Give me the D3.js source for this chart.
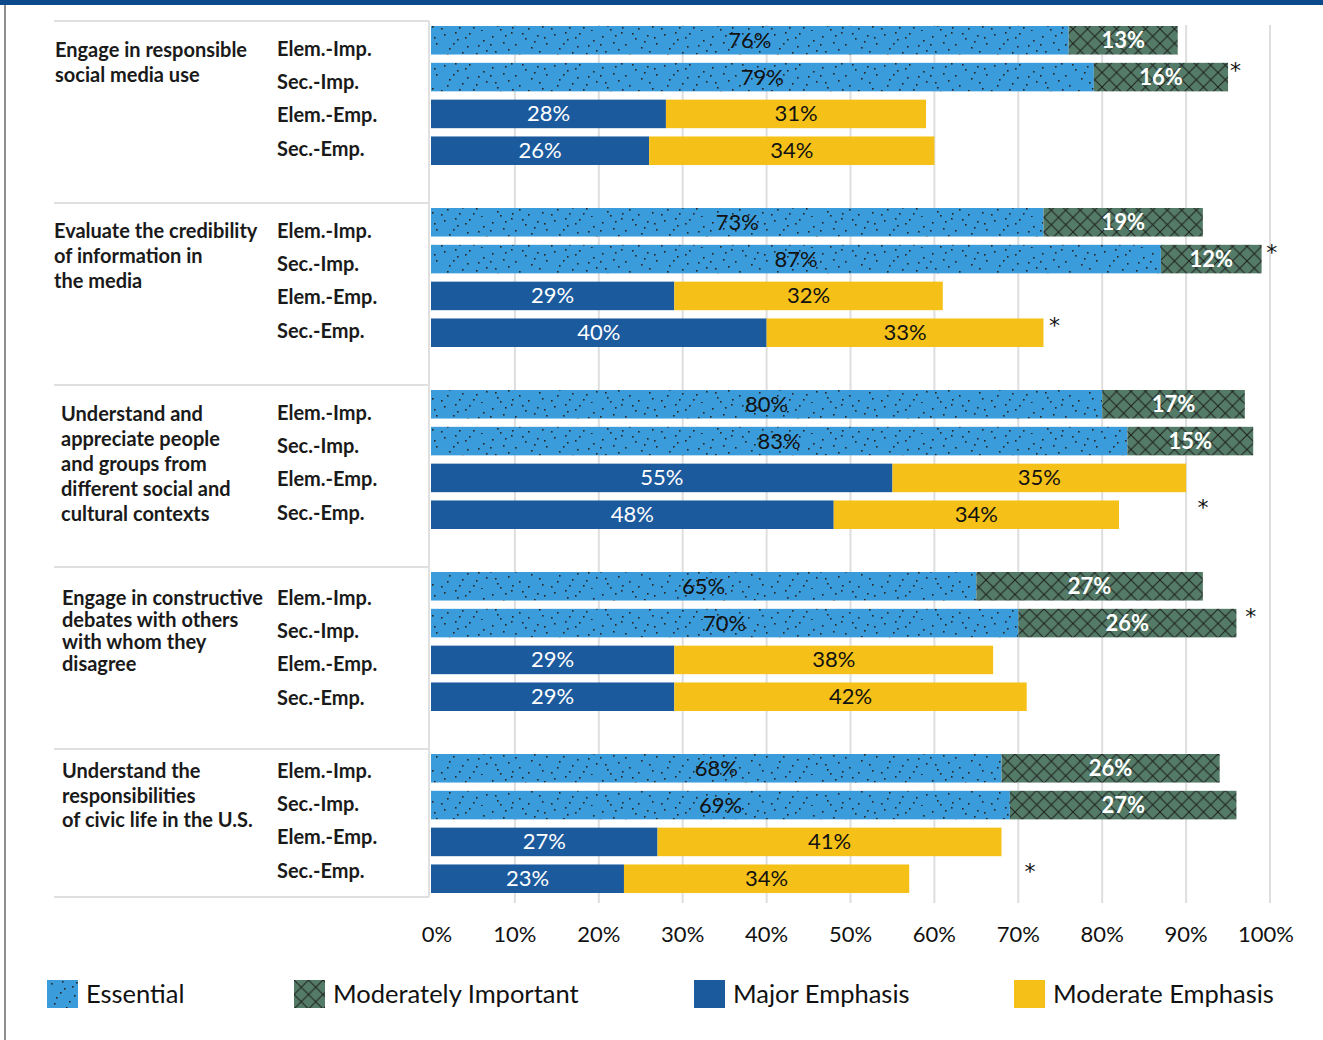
<!DOCTYPE html>
<html><head><meta charset="utf-8">
<script src="https://cdn.jsdelivr.net/npm/d3@7"></script>
<style>body{margin:0;background:#fff} svg{display:block}</style>
</head><body><svg id="c" width="1323" height="1040"></svg>
<script>
// ---------- DATA ----------
const categories = ["social", "credibility", "cultural", "debates", "civic"];
const categoryLines = [
  ["Engage in responsible", "social media use"],
  ["Evaluate the credibility", "of information in", "the media"],
  ["Understand and", "appreciate people", "and groups from", "different social and", "cultural contexts"],
  ["Engage in constructive", "debates with others", "with whom they", "disagree"],
  ["Understand the", "responsibilities", "of civic life in the U.S."]
];
const rows = ["Elem.-Imp.", "Sec.-Imp.", "Elem.-Emp.", "Sec.-Emp."];
const seriesNames = ["Essential", "Moderately Important", "Major Emphasis", "Moderate Emphasis"];
const essentialElem = [76, 73, 80, 65, 68];
const essentialSec  = [79, 87, 83, 70, 69];
const modImpElem    = [13, 19, 17, 27, 26];
const modImpSec     = [16, 12, 15, 26, 27];
const majorElem     = [28, 29, 55, 29, 27];
const majorSec      = [26, 40, 48, 29, 23];
const moderateElem  = [31, 32, 35, 38, 41];
const moderateSec   = [34, 33, 34, 42, 34];
const asterisks = [
  {cat: 0, row: 1, x: 95.9}, {cat: 1, row: 1, x: 100.2}, {cat: 1, row: 3, x: 74.3},
  {cat: 2, row: 3, x: 92.0}, {cat: 3, row: 1, x: 97.7}, {cat: 4, row: 3, x: 71.4}
];
const ticks = [0, 10, 20, 30, 40, 50, 60, 70, 80, 90, 100];
const tickLabels = ticks.map(t => t + "%");

// ---------- STYLE / LAYOUT ----------
const fills = ["url(#dots)", "url(#hatch)", "#1c5a9e", "#f5c118"];
const labelColors = ["#111", "#fff", "#fff", "#111"];
const labelWeights = [400, 700, 400, 400];
const catIndent = [55, 54, 61, 62, 62];
const catLineH = [25, 25, 25, 22, 24.5];
const catOffset = [23, 22, 23, 25, 16];
const rowLabelOffset = [22, 22, 22, 25, 16];
const rowLabelStep = 33.2;
const font = "Lato, 'Open Sans', sans-serif";

// build rows of segments
const table = [];
categories.forEach((c, i) => {
  const pairs = [
    [essentialElem[i], modImpElem[i], 0],
    [essentialSec[i], modImpSec[i], 0],
    [majorElem[i], moderateElem[i], 2],
    [majorSec[i], moderateSec[i], 2]
  ];
  pairs.forEach((p, r) => {
    table.push({cat: c, ci: i, row: rows[r], s: p[2], x0: 0, x1: p[0], v: p[0]});
    table.push({cat: c, ci: i, row: rows[r], s: p[2] + 1, x0: p[0], x1: p[0] + p[1], v: p[1]});
  });
});

const svg = d3.select("#c");
const x = d3.scaleLinear().domain([0, 100]).range([431, 1270]);
const yCat = d3.scaleBand().domain(categories).range([26, 26 + 182 * categories.length]);
const yRow = d3.scaleBand().domain(rows).range([0, 139]).paddingInner(0.225);
const barY = (c, r) => yCat(c) + yRow(r);

// patterns
const defs = svg.append("defs");
const dp = defs.append("pattern").attr("id", "dots").attr("patternUnits", "userSpaceOnUse")
  .attr("width", 110).attr("height", 31);
dp.append("rect").attr("width", 110).attr("height", 31).attr("fill", "#3b9cdb");
const dotPts = [[4,3],[17,8],[29,2],[38,14],[52,5],[63,11],[71,1],[85,7],[97,4],[106,12],
  [9,17],[22,21],[33,27],[46,19],[57,25],[68,18],[79,23],[91,16],[102,26],[1,28],
  [13,12],[27,15],[43,9],[60,29],[75,13],[88,28],[99,20],[36,22],[50,13],[65,4],
  [19,27],[82,2],[94,10],[7,23],[55,20],[72,27],[41,30],[25,6],[104,6],[15,1]];
dp.selectAll("rect.d").data(dotPts).join("rect").attr("class", "d")
  .attr("x", d => d[0]).attr("y", d => d[1]).attr("width", 1.6).attr("height", 1.6).attr("fill", "#262626");
const hp = defs.append("pattern").attr("id", "hatch").attr("patternUnits", "userSpaceOnUse")
  .attr("width", 14.5).attr("height", 14.5);
hp.append("rect").attr("width", 14.5).attr("height", 14.5).attr("fill", "#547b67");
hp.append("path").attr("d", "M0,0L14.5,14.5M14.5,0L0,14.5M-1,13.5L1,15.5M13.5,-1L15.5,1")
  .attr("stroke", "#1e1e1e").attr("stroke-width", 1);

// frame
svg.append("rect").attr("x", 0).attr("y", 0).attr("width", 1323).attr("height", 5).attr("fill", "#0b4a8d");
svg.append("line").attr("x1", 5).attr("x2", 5).attr("y1", 5).attr("y2", 1040)
  .attr("stroke", "#6a6a6a").attr("stroke-width", 1.5);

// gridlines
svg.append("g").selectAll("line").data(ticks.filter(t => t > 0)).join("line")
  .attr("x1", d => x(d)).attr("x2", d => x(d)).attr("y1", 25).attr("y2", 903)
  .attr("stroke", "#dedede").attr("stroke-width", 2);

// table lines
const lastCat = categories[categories.length - 1];
const sepYs = categories.map(c => yCat(c) - 5).concat([barY(lastCat, rows[3]) + yRow.bandwidth() + 4]);
svg.append("g").selectAll("line").data(sepYs).join("line")
  .attr("x1", 54).attr("x2", 429).attr("y1", d => d).attr("y2", d => d)
  .attr("stroke", "#e0e0e0").attr("stroke-width", 2);
svg.append("line").attr("x1", 429).attr("x2", 429).attr("y1", sepYs[0]).attr("y2", sepYs[sepYs.length - 1])
  .attr("stroke", "#e0e0e0").attr("stroke-width", 2);

// bars
svg.append("g").selectAll("rect").data(table).join("rect")
  .attr("x", d => x(d.x0)).attr("width", d => x(d.x1) - x(d.x0))
  .attr("y", d => barY(d.cat, d.row)).attr("height", yRow.bandwidth())
  .attr("fill", d => fills[d.s]);

// value labels
svg.append("g").selectAll("text").data(table).join("text")
  .attr("x", d => x((d.x0 + d.x1) / 2)).attr("y", d => barY(d.cat, d.row) + yRow.bandwidth() / 2 - 1)
  .attr("text-anchor", "middle").attr("dominant-baseline", "central")
  .attr("font-family", font).attr("font-size", 22)
  .attr("font-weight", d => labelWeights[d.s]).attr("fill", d => labelColors[d.s])
  .text(d => d.v + "%");

// asterisks
svg.append("g").selectAll("text").data(asterisks).join("text")
  .attr("x", d => x(d.x)).attr("y", d => barY(categories[d.cat], rows[d.row]) + 15)
  .attr("text-anchor", "middle").attr("font-family", "'DejaVu Sans', sans-serif").attr("font-size", 22).attr("fill", "#111")
  .text("*");

// category labels
const cg = svg.append("g");
categories.forEach((c, i) => {
  cg.append("text").attr("font-family", font).attr("font-size", 20).attr("font-weight", 700).attr("fill", "#1a1a1a")
    .selectAll("tspan").data(categoryLines[i]).join("tspan")
    .attr("x", catIndent[i]).attr("y", (d, k) => yCat(c) + catOffset[i] + k * catLineH[i])
    .attr("dominant-baseline", "central").text(d => d);
  cg.append("g").selectAll("text").data(rows).join("text")
    .attr("x", 277).attr("y", (d, k) => yCat(c) + rowLabelOffset[i] + k * rowLabelStep)
    .attr("dominant-baseline", "central")
    .attr("font-family", font).attr("font-size", 20).attr("font-weight", 700).attr("fill", "#1a1a1a")
    .text(d => d);
});

// axis tick labels
svg.append("g").selectAll("text").data(ticks).join("text")
  .attr("x", d => x(d) + (d === 0 ? 6 : d === 100 ? -4 : 0)).attr("y", 942)
  .attr("text-anchor", "middle").attr("font-family", font).attr("font-size", 22).attr("fill", "#111")
  .text((d, i) => tickLabels[i]);

// legend
const legendX = [47, 294, 694, 1014];
const lg = svg.append("g").selectAll("g").data(seriesNames).join("g")
  .attr("transform", (d, i) => `translate(${legendX[i]},980)`);
lg.append("rect").attr("width", 31).attr("height", 28).attr("fill", (d, i) => fills[i]);
lg.append("text").attr("x", 39).attr("y", 13).attr("dominant-baseline", "central")
  .attr("font-family", font).attr("font-size", 25.5).attr("fill", "#111").text(d => d);
</script></body></html>
